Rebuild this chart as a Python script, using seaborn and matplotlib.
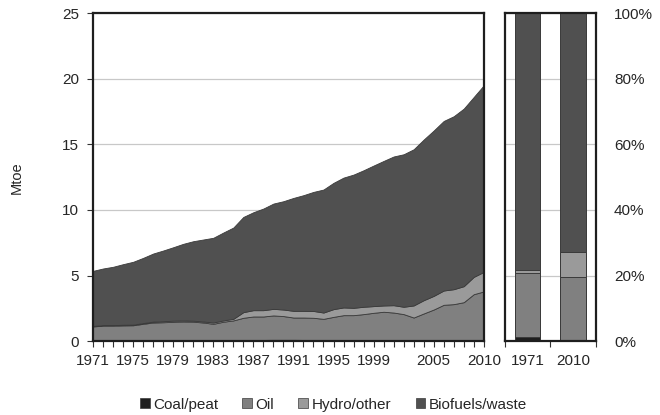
import numpy as np
import pandas as pd
import matplotlib
matplotlib.use("Agg")
import matplotlib.pyplot as plt
import seaborn as sns

years = list(range(1971, 2011))

# Supply by source, Mtoe
coal_peat = [0.06, 0.06, 0.06, 0.06, 0.06, 0.06, 0.06, 0.06, 0.06, 0.06,
             0.06, 0.06, 0.06, 0.07, 0.07, 0.08, 0.08, 0.09, 0.10, 0.10,
             0.10, 0.09, 0.09, 0.08, 0.08, 0.08, 0.08, 0.08, 0.07, 0.07,
             0.07, 0.07, 0.06, 0.06, 0.06, 0.06, 0.06, 0.06, 0.07, 0.08]
oil = [1.06, 1.12, 1.12, 1.14, 1.15, 1.26, 1.36, 1.38, 1.41, 1.44,
       1.42, 1.36, 1.26, 1.41, 1.51, 1.70, 1.80, 1.79, 1.86, 1.81,
       1.70, 1.71, 1.69, 1.62, 1.77, 1.90, 1.90, 1.98, 2.09, 2.17,
       2.11, 1.99, 1.74, 2.05, 2.35, 2.71, 2.76, 2.91, 3.51, 3.71]
hydro_other = [0.04, 0.04, 0.04, 0.05, 0.05, 0.06, 0.07, 0.08, 0.09, 0.08,
               0.08, 0.08, 0.10, 0.10, 0.12, 0.43, 0.48, 0.48, 0.50, 0.50,
               0.51, 0.51, 0.52, 0.48, 0.59, 0.59, 0.56, 0.56, 0.51, 0.48,
               0.56, 0.56, 0.92, 1.01, 1.04, 1.09, 1.14, 1.22, 1.32, 1.49]
biofuels_waste = [4.20, 4.32, 4.45, 4.62, 4.79, 4.97, 5.19, 5.39, 5.60, 5.84,
                  6.06, 6.25, 6.46, 6.70, 6.96, 7.26, 7.47, 7.75, 8.03, 8.26,
                  8.61, 8.82, 9.08, 9.38, 9.63, 9.90, 10.16, 10.41, 10.72, 11.02,
                  11.34, 11.63, 11.91, 12.25, 12.61, 12.93, 13.19, 13.54, 13.72, 14.23]

series_names = ["Coal/peat", "Oil", "Hydro/other", "Biofuels/waste"]
series_colors = ["#1e1e1e", "#808080", "#9a9a9a", "#505050"]
label_years = [1971, 1975, 1979, 1983, 1987, 1991, 1995, 1999, 2005, 2010]
share_years = [1971, 2010]

sns.set_theme(style="white")
plt.rcParams["font.family"] = ["Liberation Sans", "DejaVu Sans"]
FS = 11

fig = plt.figure(figsize=(6.6, 4.15), dpi=100)
ax = fig.add_axes([0.141, 0.178, 0.592, 0.790])
axr = fig.add_axes([0.765, 0.178, 0.138, 0.790])

df = pd.DataFrame({"year": years, "Coal/peat": coal_peat, "Oil": oil,
                   "Hydro/other": hydro_other, "Biofuels/waste": biofuels_waste})

# Stacked area of absolute supply
ax.stackplot(df["year"], [df[n] for n in series_names], colors=series_colors,
             edgecolor="#3a3a3a", linewidth=0.6)
ax.set_xlim(1971, 2010)
ax.set_ylim(0, 25)
ax.set_yticks([0, 5, 10, 15, 20, 25])
ax.set_xticks(years, minor=True)
ax.set_xticks(label_years)
ax.set_xticklabels([str(y) for y in label_years])
ax.yaxis.grid(True, color="#c8c8c8", linewidth=0.9)
ax.set_axisbelow(True)
ax.tick_params(axis="x", which="both", direction="out", length=4, width=0.8,
               color="#333333", bottom=True, labelsize=FS, pad=5)
ax.tick_params(axis="y", direction="out", length=4, width=0.8, color="#333333",
               left=True, labelsize=FS, pad=6)
ax.set_ylabel("Mtoe", fontsize=FS - 0.5, labelpad=28)
for s in ax.spines.values():
    s.set_color("#1e1e1e")
    s.set_linewidth(1.6)

# Shares for the first and last year, drawn as overlaid cumulative bars
share = df[df["year"].isin(share_years)].set_index("year")[series_names]
pct = share.div(share.sum(axis=1), axis=0) * 100
cum = pct.cumsum(axis=1)
for name, col in reversed(list(zip(series_names, series_colors))):
    bar_df = pd.DataFrame({"year": [str(y) for y in share_years],
                           "value": cum[name].values})
    sns.barplot(data=bar_df, x="year", y="value", color=col, ax=axr,
                width=0.56, edgecolor="#3a3a3a", linewidth=0.7, saturation=1)
axr.set_xlim(-0.5, 1.5)
axr.set_ylim(0, 100)
axr.set_xlabel("")
axr.set_ylabel("")
axr.set_xticks([-0.5, 0.5, 1.5])
axr.set_xticklabels([])
axr.set_xticks([0, 1], minor=True)
axr.set_xticklabels([str(y) for y in share_years], minor=True)
axr.tick_params(axis="x", which="major", direction="out", length=4, width=0.8,
                color="#333333", bottom=True)
axr.tick_params(axis="x", which="minor", length=0, labelsize=FS, pad=9)
axr.yaxis.tick_right()
axr.set_yticks([0, 20, 40, 60, 80, 100])
axr.set_yticklabels([f"{v}%" for v in [0, 20, 40, 60, 80, 100]])
axr.tick_params(axis="y", length=0, labelsize=FS, pad=13)
axr.yaxis.grid(True, color="#c8c8c8", linewidth=0.9)
axr.set_axisbelow(True)
for s in axr.spines.values():
    s.set_color("#1e1e1e")
    s.set_linewidth(1.6)

handles = [plt.Rectangle((0, 0), 1, 1, facecolor=c, edgecolor="#3a3a3a", linewidth=0.5)
           for c in series_colors]
fig.legend(handles, series_names, loc="center", bbox_to_anchor=(0.505, 0.025),
           ncol=4, frameon=False, fontsize=FS, handlelength=0.65,
           handleheight=0.65, handletextpad=0.2, columnspacing=1.6)

fig.savefig("out.png", dpi=100)
